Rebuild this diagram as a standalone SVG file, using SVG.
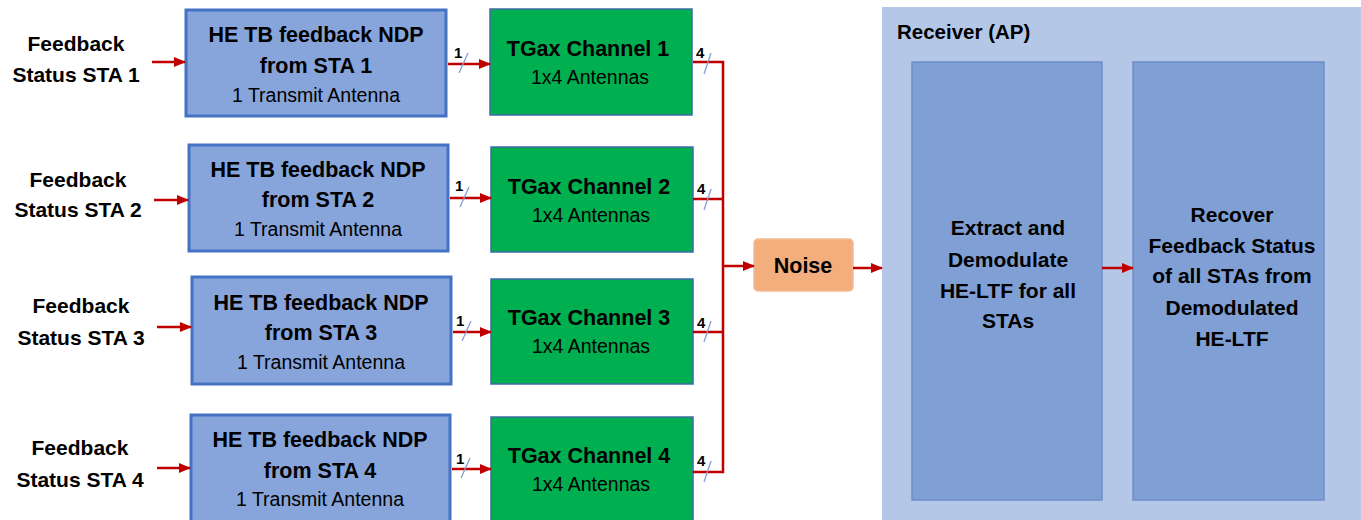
<svg xmlns="http://www.w3.org/2000/svg" width="1361" height="520" viewBox="0 0 1361 520">
<style>
text{font-family:"Liberation Sans",Arial,sans-serif;fill:#000}
.b{font-weight:bold;font-size:21px;text-anchor:middle}
.t{font-weight:bold;font-size:21.5px;text-anchor:middle}
.s{font-size:19.5px;text-anchor:middle}
.n{font-weight:bold;font-size:15px}
.he{fill:#87A5DA;stroke:#4472C4;stroke-width:3}
.ch{fill:#00B050;stroke:#3F6AA8;stroke-width:1.5}
.w{fill:none;stroke:#C00000;stroke-width:2.5}
.sl{stroke:#7F9FD6;stroke-width:1.3}
.in{fill:#7F9FD5;stroke:#6F8FC8;stroke-width:1.5}
</style>
<defs>
<marker id="ah" markerWidth="12" markerHeight="10" refX="11" refY="5" orient="auto" markerUnits="userSpaceOnUse">
<path d="M0,0 L12,5 L0,10 Z" fill="#C00000"/>
</marker>
</defs>
<rect width="1361" height="520" fill="#fff"/>

<g id="receiver">
<rect x="882" y="7" width="479" height="513" fill="#B4C7E7"/>
<text x="897" y="39" style="font-weight:bold;font-size:20.5px">Receiver (AP)</text>
</g>

<g id="labels">
<text class="b" x="76" y="51">Feedback</text><text class="b" x="76" y="82">Status STA 1</text>
<text class="b" x="78" y="187">Feedback</text><text class="b" x="78" y="217">Status STA 2</text>
<text class="b" x="81" y="313">Feedback</text><text class="b" x="81" y="345">Status STA 3</text>
<text class="b" x="80" y="455">Feedback</text><text class="b" x="80" y="487">Status STA 4</text>
</g>

<g id="he1"><rect class="he" x="186" y="10" width="260" height="106"/>
<text class="t" x="316" y="42">HE TB feedback NDP</text><text class="t" x="316" y="73">from STA 1</text><text class="s" x="316" y="102">1 Transmit Antenna</text></g>
<g id="he2"><rect class="he" x="189" y="145" width="259" height="106"/>
<text class="t" x="318" y="177">HE TB feedback NDP</text><text class="t" x="318" y="207">from STA 2</text><text class="s" x="318" y="236">1 Transmit Antenna</text></g>
<g id="he3"><rect class="he" x="192" y="277" width="259" height="107"/>
<text class="t" x="321" y="310">HE TB feedback NDP</text><text class="t" x="321" y="340">from STA 3</text><text class="s" x="321" y="369">1 Transmit Antenna</text></g>
<g id="he4"><rect class="he" x="191" y="415" width="259" height="110"/>
<text class="t" x="320" y="447">HE TB feedback NDP</text><text class="t" x="320" y="478">from STA 4</text><text class="s" x="320" y="506">1 Transmit Antenna</text></g>

<g id="ch1"><rect class="ch" x="490" y="9" width="202" height="106"/>
<text class="t" x="588" y="56">TGax Channel 1</text><text class="s" x="590" y="84">1x4 Antennas</text></g>
<g id="ch2"><rect class="ch" x="491" y="147" width="202" height="105"/>
<text class="t" x="589" y="194">TGax Channel 2</text><text class="s" x="591" y="222">1x4 Antennas</text></g>
<g id="ch3"><rect class="ch" x="491" y="279" width="202" height="105"/>
<text class="t" x="589" y="325">TGax Channel 3</text><text class="s" x="591" y="353">1x4 Antennas</text></g>
<g id="ch4"><rect class="ch" x="491" y="417" width="202" height="110"/>
<text class="t" x="589" y="463">TGax Channel 4</text><text class="s" x="591" y="491">1x4 Antennas</text></g>

<g id="noise"><rect x="754" y="239" width="99" height="52" rx="4" fill="#F2AE7C" stroke="#F4BC93" stroke-width="1.5"/>
<text class="t" x="803" y="273">Noise</text></g>

<g id="extract"><rect class="in" x="912" y="62" width="190" height="438"/>
<text class="b" x="1008" y="235">Extract and</text><text class="b" x="1008" y="267">Demodulate</text><text class="b" x="1008" y="298">HE-LTF for all</text><text class="b" x="1008" y="328">STAs</text></g>
<g id="recover"><rect class="in" x="1133" y="62" width="191" height="438"/>
<text class="b" x="1232" y="222">Recover</text><text class="b" x="1232" y="253">Feedback Status</text><text class="b" x="1232" y="283">of all STAs from</text><text class="b" x="1232" y="315">Demodulated</text><text class="b" x="1232" y="346">HE-LTF</text></g>

<g id="connectors">
<line class="w" x1="152" y1="62" x2="185" y2="62" marker-end="url(#ah)"/>
<line class="w" x1="154" y1="200" x2="188" y2="200" marker-end="url(#ah)"/>
<line class="w" x1="157" y1="327" x2="191" y2="327" marker-end="url(#ah)"/>
<line class="w" x1="157" y1="468" x2="190" y2="468" marker-end="url(#ah)"/>

<line class="w" x1="448" y1="64" x2="490" y2="64" marker-end="url(#ah)"/>
<line class="w" x1="450" y1="198" x2="491" y2="198" marker-end="url(#ah)"/>
<line class="w" x1="453" y1="332" x2="491" y2="332" marker-end="url(#ah)"/>
<line class="w" x1="452" y1="469" x2="491" y2="469" marker-end="url(#ah)"/>

<path class="w" d="M693,62 H723 V472 H693 M693,199 H723 M693,332 H723"/>
<line class="w" x1="723" y1="266" x2="754" y2="266" marker-end="url(#ah)"/>
<line class="w" x1="853" y1="268" x2="882" y2="268" marker-end="url(#ah)"/>
<line class="w" x1="1102" y1="268" x2="1133" y2="268" marker-end="url(#ah)"/>

<g class="sl">
<line x1="468" y1="53" x2="459" y2="73"/>
<line x1="469" y1="187" x2="460" y2="207"/>
<line x1="471" y1="321" x2="462" y2="341"/>
<line x1="470" y1="458" x2="461" y2="478"/>
<line x1="711" y1="53" x2="704" y2="74"/>
<line x1="711" y1="189" x2="704" y2="210"/>
<line x1="711" y1="321" x2="704" y2="342"/>
<line x1="711" y1="461" x2="704" y2="482"/>
</g>
<text class="n" x="454" y="58">1</text>
<text class="n" x="455" y="191">1</text>
<text class="n" x="456" y="326">1</text>
<text class="n" x="456" y="464">1</text>
<text class="n" x="696" y="58">4</text>
<text class="n" x="697" y="194">4</text>
<text class="n" x="697" y="328">4</text>
<text class="n" x="697" y="466">4</text>
</g>
</svg>
